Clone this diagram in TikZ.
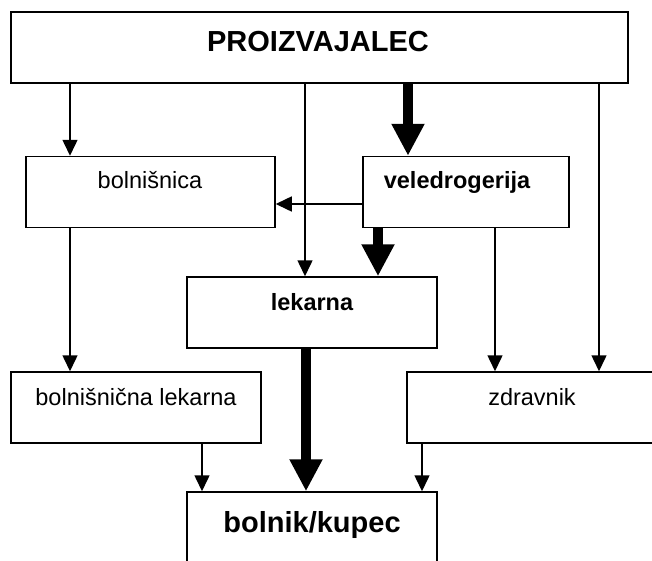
\documentclass[tikz,border=0pt]{standalone}
\usepackage{fontspec}
\setmainfont{Liberation Sans}
\usetikzlibrary{arrows.meta}

\begin{document}
\begin{tikzpicture}[x=1pt,y=-1pt,
  box/.style={draw, line width=1.5pt, minimum height=71pt, inner sep=0pt},
  lbl/.style={anchor=base, inner sep=0pt, font=\fontsize{23.5}{28}\selectfont},
  lblb/.style={lbl, font=\fontsize{23.5}{28}\selectfont\bfseries},
  big/.style={anchor=base, inner sep=0pt, font=\fontsize{29}{34}\selectfont\bfseries},
  thin/.style={line width=1.5pt, -{Triangle[length=16pt,width=15pt]}},
  thick/.style={line width=10pt, -{Triangle[length=32pt,width=31pt]}}]
\useasboundingbox (0,0) rectangle (652,560);
\clip (0,0) rectangle (652,560);

% boxes
\node[box, minimum width=617pt] (prod) at (319.5,47.5) {};
\node[box, minimum width=249pt] (bol)  at (150.5,192) {};
\node[box, minimum width=206pt] (vel)  at (466,192) {};
\node[box, minimum width=250pt] (lek)  at (312,312.5) {};
\node[box, minimum width=250pt] (bl)   at (136,407.5) {};
\node[box, minimum width=253pt] (zd)   at (533.5,407.5) {};
\node[box, minimum width=250pt] (bk)   at (312,527.5) {};

% labels
\node[big]  (tprod) at (318,51)  {PROIZVAJALEC};
\node[lbl]  (tbol)  at (150,188) {bolnišnica};
\node[lblb] (tvel)  at (457,188) {veledrogerija};
\node[lblb] (tlek)  at (312,310) {lekarna};
\node[lbl]  (tbl)   at (136,405) {bolnišnična lekarna};
\node[lbl]  (tzd)   at (532,405) {zdravnik};
\node[big]  (tbk)   at (312,532) {bolnik/kupec};

% columns of the vertical connectors
\coordinate (cA) at (70,0);
\coordinate (cB) at (305,0);
\coordinate (cC) at (408,0);
\coordinate (cD) at (599,0);
\coordinate (cE) at (378,0);
\coordinate (cF) at (495,0);
\coordinate (cG) at (202,0);
\coordinate (cH) at (306,0);
\coordinate (cI) at (422,0);
\coordinate (rH) at (0,204);

% connectors
\draw[thin]  (prod.south -| cA) -- (bol.north -| cA);
\draw[thin]  (prod.south -| cB) -- (lek.north -| cB);
\draw[thick] (prod.south -| cC) -- (vel.north -| cC);
\draw[thin]  (prod.south -| cD) -- (zd.north -| cD);
\draw[thin]  (vel.west |- rH) -- (bol.east |- rH);
\draw[thick] (vel.south -| cE) -- (lek.north -| cE);
\draw[thin]  (vel.south -| cF) -- (zd.north -| cF);
\draw[thin]  (bol.south -| cA) -- (bl.north -| cA);
\draw[thin]  (bl.south -| cG) -- (bk.north -| cG);
\draw[thick] (lek.south -| cH) -- (bk.north -| cH);
\draw[thin]  (zd.south -| cI) -- (bk.north -| cI);
\end{tikzpicture}
\end{document}
